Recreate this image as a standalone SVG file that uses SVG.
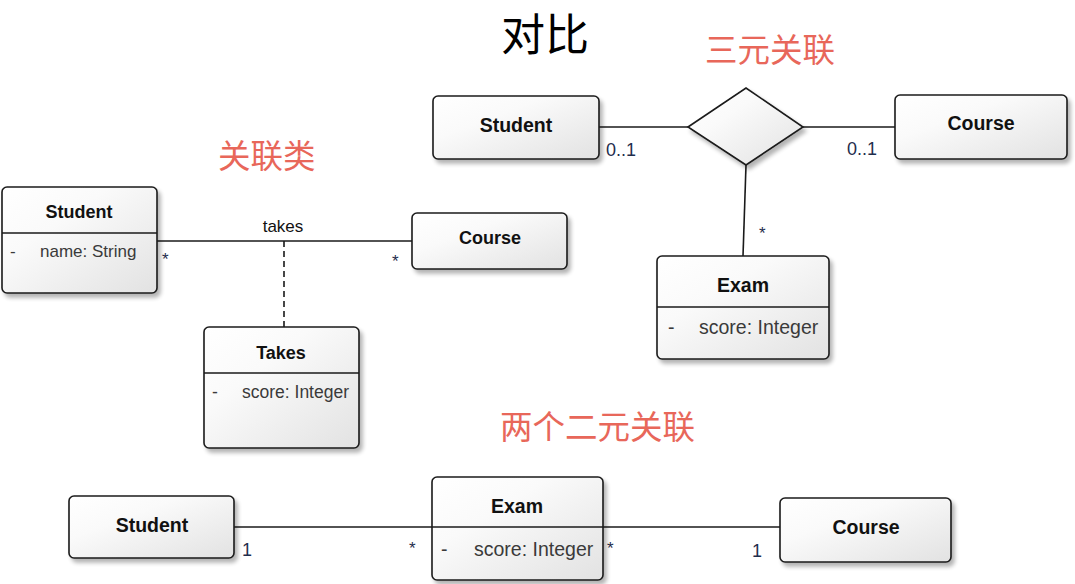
<svg xmlns="http://www.w3.org/2000/svg" width="1075" height="584" viewBox="0 0 1075 584">
<defs>
<linearGradient id="g" x1="0" y1="0" x2="1" y2="1">
<stop offset="0" stop-color="#ffffff"/>
<stop offset="0.35" stop-color="#fafafa"/>
<stop offset="1" stop-color="#e2e2e2"/>
</linearGradient>
<filter id="sh" x="-10%" y="-10%" width="130%" height="140%">
<feGaussianBlur in="SourceAlpha" stdDeviation="2"/>
<feOffset dx="3" dy="4" result="b"/>
<feComponentTransfer><feFuncA type="linear" slope="0.3"/></feComponentTransfer>
<feMerge><feMergeNode/><feMergeNode in="SourceGraphic"/></feMerge>
</filter>
<style>
.box{fill:url(#g);stroke:#1a1a1a;stroke-width:1.6;filter:url(#sh)}
.div{stroke:#1a1a1a;stroke-width:1.4}
.ln{stroke:#1a1a1a;stroke-width:1.6;fill:none}
.nm{font-family:"Liberation Sans",Arial,sans-serif;font-weight:bold;fill:#111;text-anchor:middle}
.at{font-family:"Liberation Sans",Arial,sans-serif;fill:#3a3a3a}
.mu{font-family:"Liberation Sans",Arial,sans-serif;fill:#1f2d4d}
.red{font-family:"Noto Sans CJK SC",sans-serif;fill:#e8675a;font-size:32.5px}
</style>
</defs>
<rect width="1075" height="584" fill="#ffffff"/>
<text x="501" y="51" style="font-family:'Noto Sans CJK SC',sans-serif;font-size:44px;fill:#000">对比</text>
<text x="705" y="62" class="red">三元关联</text>
<text x="218" y="168" class="red">关联类</text>
<text x="500" y="439" class="red">两个二元关联</text>

<g id="connectors">
<line class="ln" x1="157" y1="241" x2="412" y2="241"/>
<line class="ln" x1="284" y1="241" x2="284" y2="327" stroke-dasharray="6,4"/>
<line class="ln" x1="599" y1="127" x2="688" y2="127"/>
<line class="ln" x1="803" y1="127" x2="895" y2="127"/>
<line class="ln" x1="746" y1="165" x2="743" y2="256"/>
<line class="ln" x1="234" y1="527" x2="432" y2="527"/>
<line class="ln" x1="603" y1="527" x2="780" y2="527"/>
<text x="283" y="232" class="at" style="font-size:17px;fill:#111;text-anchor:middle">takes</text>
<text x="162" y="265" class="mu" style="font-size:17px">*</text>
<text x="392" y="267" class="mu" style="font-size:17px">*</text>
<text x="606" y="156" class="mu" style="font-size:18px">0..1</text>
<text x="847" y="155" class="mu" style="font-size:18px">0..1</text>
<text x="759" y="239" class="mu" style="font-size:17px">*</text>
<text x="242" y="556" class="mu" style="font-size:18px">1</text>
<text x="409" y="554" class="mu" style="font-size:17px">*</text>
<text x="607" y="554" class="mu" style="font-size:17px">*</text>
<text x="752" y="557" class="mu" style="font-size:18px">1</text>
</g>

<g id="student1">
<rect class="box" x="2" y="187" width="155" height="106" rx="5"/>
<line class="div" x1="2" y1="233" x2="157" y2="233"/>
<text x="79" y="218" class="nm" style="font-size:18px">Student</text>
<text x="10" y="257" class="at" style="font-size:17px">-</text>
<text x="40" y="257" class="at" style="font-size:17px">name: String</text>
</g>
<g id="course1">
<rect class="box" x="412" y="213" width="155" height="56" rx="5"/>
<text x="490" y="244" class="nm" style="font-size:18px">Course</text>
</g>
<g id="takes">
<rect class="box" x="204" y="327" width="155" height="121" rx="5"/>
<line class="div" x1="204" y1="373" x2="359" y2="373"/>
<text x="281" y="359" class="nm" style="font-size:18px">Takes</text>
<text x="212" y="398" class="at" style="font-size:17.5px">-</text>
<text x="242" y="398" class="at" style="font-size:17.5px">score: Integer</text>
</g>

<g id="student2">
<rect class="box" x="433" y="96" width="166" height="63" rx="5"/>
<text x="516" y="132" class="nm" style="font-size:19.5px">Student</text>
</g>
<g id="diamond">
<polygon class="box" points="688,127 746,88 803,127 746,165"/>
</g>
<g id="course2">
<rect class="box" x="895" y="95" width="172" height="64" rx="5"/>
<text x="981" y="130" class="nm" style="font-size:19.5px">Course</text>
</g>
<g id="exam1">
<rect class="box" x="657" y="256" width="172" height="103" rx="5"/>
<line class="div" x1="657" y1="307" x2="829" y2="307"/>
<text x="743" y="292" class="nm" style="font-size:19.5px">Exam</text>
<text x="668" y="334" class="at" style="font-size:19.5px">-</text>
<text x="699" y="334" class="at" style="font-size:19.5px">score: Integer</text>
</g>

<g id="student3">
<rect class="box" x="69" y="496" width="165" height="62" rx="5"/>
<text x="152" y="532" class="nm" style="font-size:19.5px">Student</text>
</g>
<g id="exam2">
<rect class="box" x="432" y="477" width="171" height="103" rx="5"/>
<line class="div" x1="432" y1="527" x2="603" y2="527"/>
<text x="517" y="513" class="nm" style="font-size:19.5px">Exam</text>
<text x="441" y="556" class="at" style="font-size:19.5px">-</text>
<text x="474" y="556" class="at" style="font-size:19.5px">score: Integer</text>
</g>
<g id="course3">
<rect class="box" x="780" y="498" width="171" height="64" rx="5"/>
<text x="866" y="534" class="nm" style="font-size:19.5px">Course</text>
</g>
</svg>
